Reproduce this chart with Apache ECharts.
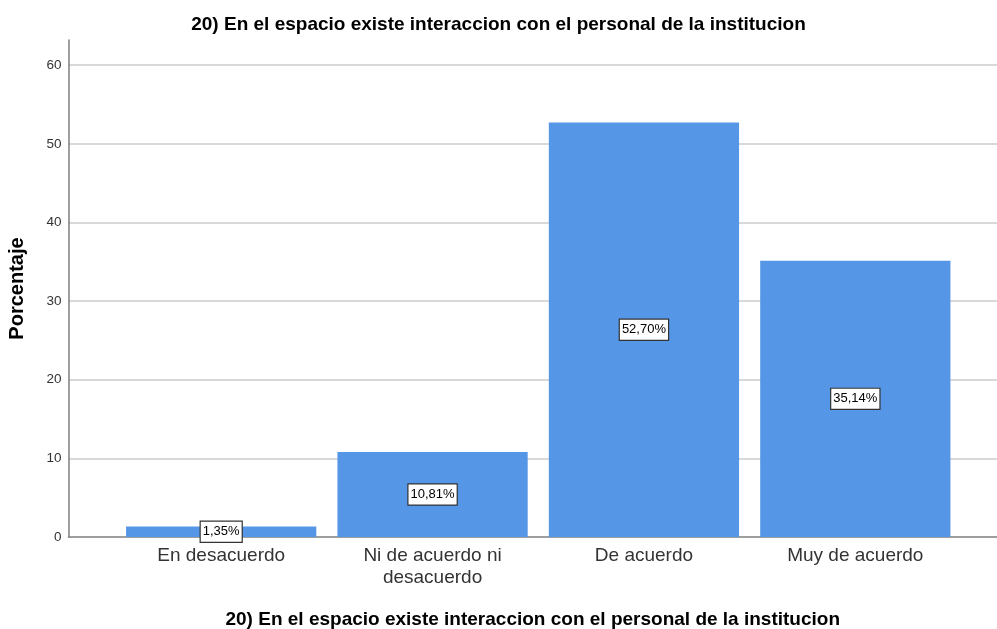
<!DOCTYPE html>
<html>
<head>
<meta charset="utf-8">
<script src="https://cdn.jsdelivr.net/npm/echarts@6/dist/echarts.min.js"></script>
<style>html,body{margin:0;padding:0;background:#fff}#c{width:997px;height:629px}</style>
</head>
<body>
<div id="c"></div>
<script>
var titleText = '20) En el espacio existe interaccion con el personal de la institucion';
var categories = ['En desacuerdo', 'Ni de acuerdo ni\ndesacuerdo', 'De acuerdo', 'Muy de acuerdo'];
var percentages = [1.35, 10.81, 52.70, 35.14];
var yAxisName = 'Porcentaje';
var xAxisName = '20) En el espacio existe interaccion con el personal de la institucion';

var FONT = '"Liberation Sans", Arial, sans-serif';
var chart = echarts.init(document.getElementById('c'), null, {renderer: 'canvas'});
var yMax = 63.2;
chart.setOption({
  animation: false,
  backgroundColor: '#fff',
  title: {
    text: titleText, left: 'center', top: 10,
    textStyle: {fontFamily: FONT, fontSize: 19, fontWeight: 'bold', color: '#000'}
  },
  grid: [
    {left: 68.5, right: 0, top: 40, bottom: 92, outerBoundsMode: 'none', containLabel: false},
    {left: 115.5, right: 36, top: 40, bottom: 92, outerBoundsMode: 'none', containLabel: false}
  ],
  xAxis: [
    {gridIndex: 0, type: 'category', data: ['a'],
     axisLine: {show: true, lineStyle: {color: '#7f7f7f', width: 1.5}},
     axisTick: {show: false}, axisLabel: {show: false}, splitLine: {show: false},
     name: xAxisName, nameLocation: 'middle', nameGap: 73,
     nameTextStyle: {fontFamily: FONT, fontSize: 19, fontWeight: 'bold', color: '#000'}},
    {gridIndex: 1, type: 'category', data: categories,
     axisLine: {show: false}, axisTick: {show: false},
     axisLabel: {fontFamily: FONT, fontSize: 19, color: '#333', margin: 8, lineHeight: 22, interval: 0},
     splitLine: {show: false}}
  ],
  yAxis: [
    {gridIndex: 0, type: 'value', min: 0, max: yMax, interval: 10,
     axisLine: {show: true, lineStyle: {color: '#7f7f7f', width: 1.5}},
     axisTick: {show: false},
     axisLabel: {fontFamily: FONT, fontSize: 13.5, color: '#333', margin: 7, showMaxLabel: false},
     splitLine: {show: true, showMinLine: false, showMaxLine: false, lineStyle: {color: '#d9d9d9', width: 2}},
     name: yAxisName, nameLocation: 'middle', nameGap: 41, nameRotate: 90,
     nameTextStyle: {fontFamily: FONT, fontSize: 20, fontWeight: 'bold', color: '#000'}},
    {gridIndex: 1, type: 'value', min: 0, max: yMax, show: false, splitLine: {show: false}}
  ],
  series: [{
    type: 'bar', xAxisIndex: 1, yAxisIndex: 1,
    data: percentages,
    barCategoryGap: '10%',
    itemStyle: {color: '#5596e6'},
    label: {
      show: true, position: 'inside',
      formatter: function (p) { return p.value.toFixed(2).replace('.', ',') + '%'; },
      fontFamily: FONT, fontSize: 13, color: '#000',
      backgroundColor: '#fff', borderColor: '#333', borderWidth: 1.2,
      padding: [4, 2, 3, 2]
    }
  }]
});
</script>
</body>
</html>
